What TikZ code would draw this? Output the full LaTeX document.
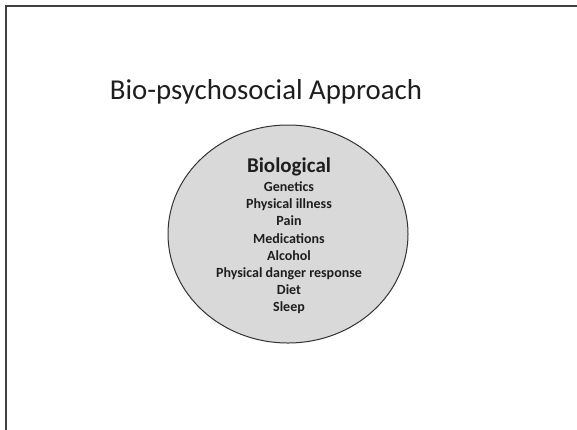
\documentclass[tikz,border=0pt]{standalone}
\usepackage{fontspec}
\setmainfont{Carlito}
\definecolor{framegray}{HTML}{404040}
\definecolor{circfill}{HTML}{D9D9D9}
\definecolor{circline}{HTML}{333333}
\definecolor{inktext}{HTML}{1E1E1E}
\tikzset{
  slideframe/.style={draw=framegray, line width=2.5pt},
  factorcircle/.style={ellipse, draw=circline, fill=circfill, line width=1pt,
    minimum width=240pt, minimum height=218pt, inner sep=0pt},
  heading/.style={anchor=base, font=\fontsize{28.8}{32}\selectfont, text=inktext, inner sep=0pt},
  groupname/.style={anchor=base, font=\fontsize{21}{24}\bfseries\selectfont, text=inktext, inner sep=0pt},
  factor/.style={anchor=base, font=\fontsize{14}{16}\bfseries\selectfont, text=inktext, inner sep=0pt}
}
\usetikzlibrary{shapes.geometric}
\begin{document}
\begin{tikzpicture}[x=1pt, y=-1pt]
  \useasboundingbox (0,0) rectangle (577,429);
  % slide border, running off the right and bottom edges
  \draw[slideframe] (6,440) -- (6,6) -- (590,6);
  % title
  \node[heading] (title) at (266,99) {Bio-psychosocial Approach};
  % biological factors
  \node[factorcircle] (bio) at (288,234) {};
  \node[groupname] (biohead) at (289,172.5) {Biological};
  \foreach \i/\txt in {1/Genetics, 2/Physical illness, 3/Pain, 4/Medications,
                       5/Alcohol, 6/Physical danger response, 7/Diet, 8/Sleep}
    \node[factor] (f\i) at (289,{174.2+17.2*\i}) {\txt};
\end{tikzpicture}
\end{document}
